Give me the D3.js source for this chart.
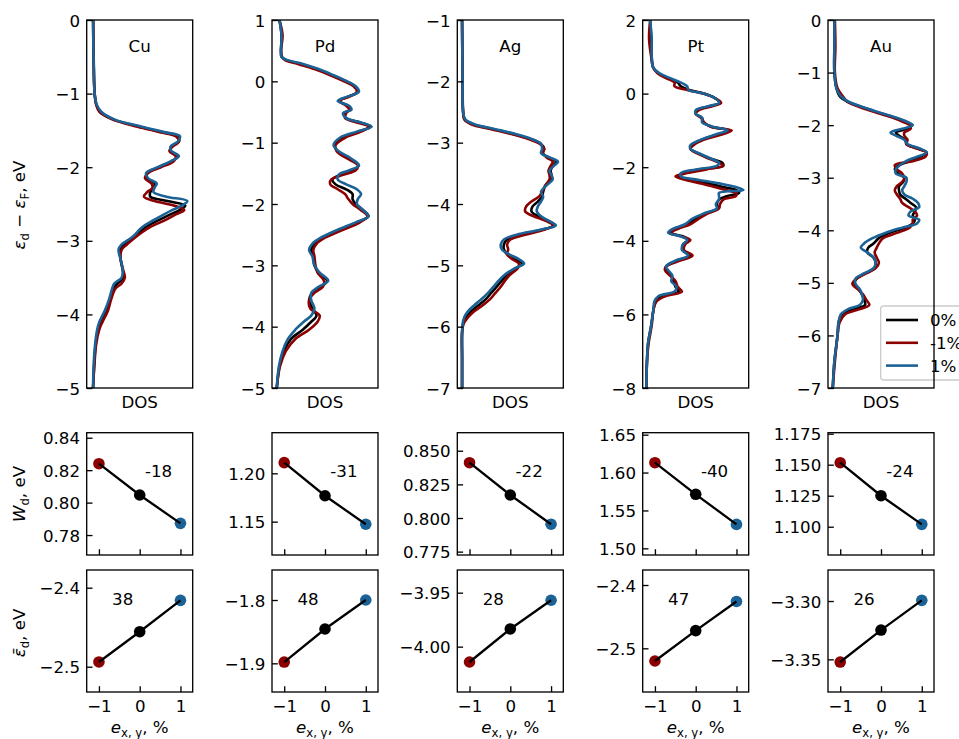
<!DOCTYPE html>
<html>
<head>
<meta charset="utf-8">
<script src="https://cdn.jsdelivr.net/npm/d3@7"></script>
<style>
  body { margin: 0; background: #fff; }
  svg { display: block; font-family: 'DejaVu Sans', sans-serif; }
</style>
</head>
<body>
<div id="chart"></div>
<script>
var metals = ['Cu', 'Pd', 'Ag', 'Pt', 'Au'];
var strains = [-1, 0, 1];
var seriesLabels = ['0%', '-1%', '1%'];

// d-band DOS, energies in eV, DOS in arbitrary units
var cuEnergy = [0, -0.5, -1.0, -1.15, -1.25, -1.35, -1.45, -1.52, -1.58, -1.65, -1.72, -1.78, -1.85, -1.92, -2.0, -2.08, -2.15, -2.22, -2.28, -2.34, -2.40, -2.46, -2.52, -2.58, -2.64, -2.72, -2.82, -2.95, -3.05, -3.12, -3.25, -3.4, -3.5, -3.58, -3.65, -3.8, -3.95, -4.1, -4.2, -4.4, -4.7, -5.0];
var cuDos0 = [0.06, 0.065, 0.075, 0.09, 0.13, 0.25, 0.50, 0.70, 0.86, 0.87, 0.80, 0.79, 0.86, 0.80, 0.68, 0.57, 0.57, 0.64, 0.63, 0.60, 0.60, 0.76, 0.93, 0.88, 0.79, 0.68, 0.55, 0.45, 0.36, 0.31, 0.32, 0.34, 0.35, 0.29, 0.25, 0.22, 0.18, 0.13, 0.11, 0.085, 0.07, 0.06];
var cuDosM1 = [0.062, 0.066, 0.075, 0.09, 0.12, 0.24, 0.48, 0.68, 0.84, 0.87, 0.81, 0.78, 0.84, 0.82, 0.70, 0.58, 0.55, 0.61, 0.62, 0.57, 0.54, 0.64, 0.82, 0.92, 0.84, 0.74, 0.59, 0.46, 0.38, 0.33, 0.32, 0.345, 0.36, 0.33, 0.27, 0.23, 0.20, 0.15, 0.12, 0.09, 0.072, 0.06];
var cuDosP1 = [0.06, 0.065, 0.075, 0.095, 0.14, 0.26, 0.52, 0.72, 0.88, 0.86, 0.79, 0.80, 0.87, 0.79, 0.67, 0.56, 0.58, 0.66, 0.64, 0.63, 0.75, 0.95, 0.90, 0.81, 0.73, 0.63, 0.52, 0.43, 0.33, 0.30, 0.32, 0.34, 0.33, 0.26, 0.24, 0.21, 0.17, 0.12, 0.10, 0.08, 0.065, 0.06];

var pdEnergy = [1.0, 0.75, 0.5, 0.4, 0.35, 0.28, 0.2, 0.1, 0.0, -0.08, -0.17, -0.25, -0.32, -0.40, -0.46, -0.52, -0.60, -0.67, -0.74, -0.82, -0.92, -1.04, -1.14, -1.25, -1.37, -1.45, -1.52, -1.60, -1.68, -1.76, -1.84, -1.92, -2.0, -2.1, -2.2, -2.3, -2.42, -2.55, -2.65, -2.75, -2.85, -3.0, -3.12, -3.25, -3.35, -3.45, -3.57, -3.7, -3.82, -3.92, -4.05, -4.2, -4.4, -4.65, -5.0];
var pdDos0 = [0.07, 0.09, 0.085, 0.09, 0.13, 0.28, 0.42, 0.57, 0.70, 0.78, 0.81, 0.72, 0.63, 0.72, 0.74, 0.68, 0.70, 0.83, 0.93, 0.82, 0.66, 0.59, 0.62, 0.72, 0.82, 0.76, 0.65, 0.57, 0.60, 0.70, 0.76, 0.76, 0.79, 0.86, 0.91, 0.80, 0.64, 0.48, 0.40, 0.37, 0.39, 0.40, 0.44, 0.52, 0.46, 0.38, 0.35, 0.38, 0.42, 0.37, 0.29, 0.18, 0.11, 0.07, 0.045];
var pdDosM1 = [0.07, 0.10, 0.085, 0.095, 0.12, 0.25, 0.40, 0.55, 0.68, 0.77, 0.80, 0.73, 0.64, 0.70, 0.73, 0.70, 0.69, 0.80, 0.91, 0.84, 0.69, 0.60, 0.61, 0.70, 0.81, 0.79, 0.68, 0.56, 0.55, 0.62, 0.69, 0.72, 0.76, 0.84, 0.90, 0.83, 0.67, 0.50, 0.42, 0.39, 0.40, 0.41, 0.43, 0.49, 0.48, 0.40, 0.35, 0.36, 0.45, 0.43, 0.35, 0.22, 0.13, 0.075, 0.045];
var pdDosP1 = [0.07, 0.09, 0.085, 0.09, 0.14, 0.30, 0.44, 0.58, 0.71, 0.79, 0.82, 0.71, 0.62, 0.73, 0.75, 0.67, 0.70, 0.84, 0.94, 0.80, 0.64, 0.58, 0.63, 0.74, 0.82, 0.73, 0.63, 0.62, 0.70, 0.80, 0.84, 0.81, 0.80, 0.86, 0.91, 0.79, 0.62, 0.46, 0.38, 0.35, 0.38, 0.40, 0.45, 0.53, 0.44, 0.37, 0.37, 0.40, 0.37, 0.30, 0.22, 0.15, 0.10, 0.065, 0.045];

var agEnergy = [-1, -2, -2.5, -2.62, -2.7, -2.78, -2.86, -2.94, -3.02, -3.1, -3.17, -3.24, -3.31, -3.38, -3.46, -3.53, -3.6, -3.7, -3.8, -3.88, -3.96, -4.04, -4.12, -4.2, -4.28, -4.35, -4.42, -4.5, -4.58, -4.66, -4.74, -4.82, -4.9, -4.97, -5.05, -5.15, -5.25, -5.35, -5.45, -5.55, -5.65, -5.75, -5.85, -5.95, -6.1, -6.5, -7];
var agDos0 = [0.045, 0.05, 0.055, 0.07, 0.15, 0.34, 0.53, 0.69, 0.79, 0.82, 0.80, 0.86, 0.93, 0.90, 0.88, 0.89, 0.88, 0.83, 0.81, 0.80, 0.76, 0.71, 0.70, 0.76, 0.86, 0.91, 0.80, 0.60, 0.47, 0.44, 0.44, 0.47, 0.55, 0.61, 0.55, 0.47, 0.42, 0.37, 0.32, 0.27, 0.20, 0.13, 0.08, 0.055, 0.045, 0.045, 0.045];
var agDosM1 = [0.045, 0.05, 0.055, 0.065, 0.13, 0.32, 0.51, 0.67, 0.78, 0.82, 0.81, 0.84, 0.90, 0.88, 0.86, 0.87, 0.87, 0.83, 0.80, 0.77, 0.70, 0.65, 0.64, 0.72, 0.84, 0.90, 0.82, 0.64, 0.50, 0.47, 0.48, 0.47, 0.52, 0.58, 0.57, 0.50, 0.45, 0.41, 0.36, 0.31, 0.24, 0.16, 0.10, 0.06, 0.045, 0.045, 0.045];
var agDosP1 = [0.045, 0.05, 0.055, 0.075, 0.16, 0.36, 0.55, 0.70, 0.79, 0.80, 0.79, 0.87, 0.95, 0.91, 0.87, 0.89, 0.90, 0.84, 0.79, 0.81, 0.79, 0.76, 0.75, 0.79, 0.87, 0.93, 0.78, 0.56, 0.44, 0.41, 0.42, 0.49, 0.58, 0.63, 0.54, 0.45, 0.39, 0.34, 0.29, 0.23, 0.16, 0.10, 0.065, 0.05, 0.045, 0.045, 0.045];

var ptEnergy = [2, 1.5, 1.0, 0.7, 0.55, 0.42, 0.3, 0.2, 0.1, 0.0, -0.12, -0.25, -0.35, -0.45, -0.55, -0.66, -0.78, -0.9, -1.0, -1.1, -1.25, -1.4, -1.5, -1.62, -1.75, -1.88, -1.96, -2.06, -2.16, -2.25, -2.34, -2.44, -2.54, -2.62, -2.7, -2.78, -2.88, -3.0, -3.12, -3.25, -3.4, -3.55, -3.68, -3.78, -3.88, -3.98, -4.1, -4.25, -4.4, -4.55, -4.7, -4.8, -4.95, -5.1, -5.25, -5.38, -5.5, -5.65, -5.9, -6.3, -6.8, -7.3, -8];
var ptDos0 = [0.07, 0.08, 0.085, 0.10, 0.15, 0.24, 0.33, 0.36, 0.44, 0.58, 0.68, 0.73, 0.62, 0.51, 0.50, 0.56, 0.57, 0.65, 0.82, 0.72, 0.56, 0.46, 0.45, 0.52, 0.62, 0.75, 0.76, 0.55, 0.40, 0.33, 0.45, 0.62, 0.76, 0.88, 0.91, 0.80, 0.72, 0.70, 0.71, 0.60, 0.50, 0.42, 0.30, 0.25, 0.38, 0.43, 0.38, 0.38, 0.45, 0.31, 0.22, 0.22, 0.27, 0.29, 0.31, 0.34, 0.18, 0.12, 0.10, 0.08, 0.05, 0.04, 0.035];
var ptDosM1 = [0.07, 0.06, 0.08, 0.10, 0.14, 0.22, 0.30, 0.30, 0.42, 0.57, 0.68, 0.74, 0.65, 0.53, 0.50, 0.55, 0.58, 0.64, 0.84, 0.76, 0.58, 0.48, 0.45, 0.51, 0.61, 0.72, 0.76, 0.60, 0.42, 0.31, 0.40, 0.55, 0.68, 0.78, 0.88, 0.88, 0.76, 0.73, 0.72, 0.62, 0.53, 0.45, 0.33, 0.27, 0.36, 0.45, 0.40, 0.39, 0.47, 0.34, 0.22, 0.21, 0.26, 0.31, 0.33, 0.37, 0.22, 0.13, 0.10, 0.085, 0.055, 0.04, 0.035];
var ptDosP1 = [0.07, 0.085, 0.085, 0.10, 0.16, 0.26, 0.36, 0.42, 0.43, 0.58, 0.68, 0.72, 0.61, 0.50, 0.50, 0.56, 0.56, 0.66, 0.80, 0.70, 0.55, 0.45, 0.45, 0.53, 0.63, 0.72, 0.70, 0.50, 0.36, 0.36, 0.52, 0.72, 0.88, 0.95, 0.72, 0.72, 0.72, 0.69, 0.70, 0.58, 0.47, 0.40, 0.28, 0.24, 0.36, 0.42, 0.38, 0.37, 0.43, 0.30, 0.22, 0.24, 0.28, 0.27, 0.32, 0.30, 0.15, 0.11, 0.10, 0.08, 0.05, 0.04, 0.035];

var auEnergy = [0, -0.5, -1.0, -1.3, -1.45, -1.55, -1.65, -1.75, -1.85, -1.93, -2.0, -2.07, -2.14, -2.2, -2.28, -2.36, -2.44, -2.52, -2.6, -2.68, -2.76, -2.84, -2.92, -3.0, -3.08, -3.16, -3.24, -3.32, -3.4, -3.48, -3.56, -3.64, -3.72, -3.8, -3.87, -3.95, -4.05, -4.15, -4.25, -4.33, -4.42, -4.52, -4.62, -4.72, -4.82, -4.92, -5.02, -5.12, -5.22, -5.32, -5.42, -5.5, -5.6, -5.75, -6.0, -6.5, -7.0];
var auDos0 = [0.06, 0.06, 0.06, 0.08, 0.11, 0.18, 0.31, 0.46, 0.62, 0.72, 0.79, 0.74, 0.64, 0.67, 0.73, 0.74, 0.84, 0.93, 0.87, 0.78, 0.67, 0.63, 0.66, 0.72, 0.71, 0.67, 0.67, 0.68, 0.73, 0.78, 0.83, 0.82, 0.80, 0.82, 0.80, 0.73, 0.58, 0.48, 0.43, 0.38, 0.37, 0.43, 0.45, 0.44, 0.35, 0.27, 0.25, 0.29, 0.32, 0.34, 0.35, 0.25, 0.13, 0.10, 0.09, 0.06, 0.045];
var auDosM1 = [0.065, 0.07, 0.065, 0.09, 0.14, 0.18, 0.29, 0.44, 0.60, 0.70, 0.77, 0.78, 0.72, 0.72, 0.75, 0.74, 0.83, 0.93, 0.92, 0.81, 0.63, 0.65, 0.70, 0.72, 0.70, 0.65, 0.63, 0.65, 0.68, 0.70, 0.76, 0.82, 0.84, 0.80, 0.80, 0.77, 0.65, 0.52, 0.48, 0.46, 0.44, 0.46, 0.48, 0.45, 0.36, 0.27, 0.23, 0.28, 0.33, 0.36, 0.39, 0.30, 0.16, 0.11, 0.09, 0.065, 0.045];
var auDosP1 = [0.06, 0.06, 0.06, 0.08, 0.12, 0.19, 0.32, 0.47, 0.63, 0.74, 0.80, 0.70, 0.59, 0.64, 0.72, 0.75, 0.86, 0.93, 0.84, 0.74, 0.68, 0.64, 0.64, 0.74, 0.74, 0.72, 0.70, 0.72, 0.80, 0.85, 0.86, 0.78, 0.76, 0.86, 0.84, 0.70, 0.54, 0.42, 0.34, 0.31, 0.37, 0.43, 0.45, 0.43, 0.34, 0.26, 0.26, 0.30, 0.32, 0.33, 0.30, 0.19, 0.12, 0.10, 0.09, 0.06, 0.045];

var energyLimits = [[0, -5], [1, -5], [-1, -7], [2, -8], [0, -7]];
var energyTicks = [[0, -1, -2, -3, -4, -5], [1, 0, -1, -2, -3, -4, -5], [-1, -2, -3, -4, -5, -6, -7], [2, 0, -2, -4, -6, -8], [0, -1, -2, -3, -4, -5, -6, -7]];

// d-band width W_d (eV) at -1, 0, 1 % strain
var wdValues = [[0.8240, 0.8047, 0.7872], [1.2110, 1.1768, 1.1473], [0.8411, 0.8171, 0.7954], [1.6130, 1.5713, 1.5316], [1.1516, 1.1250, 1.1019]];
var wdLimits = [[0.7677, 0.8431], [1.1155, 1.2420], [0.7725, 0.8634], [1.4912, 1.6526], [1.0772, 1.1758]];
var wdTicks = [[0.78, 0.80, 0.82, 0.84], [1.15, 1.20], [0.775, 0.800, 0.825, 0.850], [1.50, 1.55, 1.60, 1.65], [1.100, 1.125, 1.150, 1.175]];
var wdDecimals = [2, 2, 3, 2, 3];
var wdSlopes = ['-18', '-31', '-22', '-40', '-24'];

// d-band centre (eV) at -1, 0, 1 % strain
var edValues = [[-2.494, -2.4557, -2.416], [-1.898, -1.8458, -1.800], [-4.0142, -3.9836, -3.957], [-2.520, -2.472, -2.426], [-3.3523, -3.3249, -3.2994]];
var edLimits = [[-2.532, -2.3776], [-1.9453, -1.7526], [-4.042, -3.929], [-2.569, -2.3763], [-3.378, -3.2734]];
var edTicks = [[-2.5, -2.4], [-1.9, -1.8], [-4.00, -3.95], [-2.5, -2.4], [-3.35, -3.30]];
var edDecimals = [1, 1, 2, 1, 2];
var edSlopes = ['38', '48', '28', '47', '26'];

var dosEnergy = [cuEnergy, pdEnergy, agEnergy, ptEnergy, auEnergy];
var dosSeries = [
  [cuDos0, cuDosM1, cuDosP1],
  [pdDos0, pdDosM1, pdDosP1],
  [agDos0, agDosM1, agDosP1],
  [ptDos0, ptDosM1, ptDosP1],
  [auDos0, auDosM1, auDosP1]
];

var chart_width = 959;
var chart_height = 739;
var font_size = 16.67;
var panel_width = 106;
var panel_left = [86.7, 272, 457.3, 642.7, 828];
var dos_top = 20, dos_bottom = 388;
var wd_top = 432.7, wd_bottom = 555;
var ed_top = 570, ed_bottom = 692;
var colors = ['#000000', '#8b0000', '#1b6296'];
var strain_colors = ['#8b0000', '#000000', '#1b6296'];

var svg = d3.select('#chart')
  .append('svg')
  .attr('width', chart_width)
  .attr('height', chart_height);

function styleAxis(g) {
  g.attr('font-size', font_size).attr('font-family', 'DejaVu Sans');
  g.select('.domain').remove();
  g.selectAll('.tick line').attr('stroke', '#000').attr('stroke-width', 1.33);
  g.selectAll('.tick text').attr('fill', '#000');
}

function leftAxis(scale, ticks, fmt) {
  var g = svg.append('g')
    .attr('transform', 'translate(' + scale.left + ',0)')
    .call(d3.axisLeft(scale.s).tickValues(ticks).tickFormat(fmt).tickSize(-5.8).tickPadding(6.7));
  styleAxis(g);
  g.selectAll('.tick text').attr('dy', '0.36em');
  return g;
}

function frame(left, top, bottom) {
  svg.append('rect')
    .attr('x', left).attr('y', top)
    .attr('width', panel_width).attr('height', bottom - top)
    .attr('fill', 'none').attr('stroke', '#000').attr('stroke-width', 1.33);
}

// text with math-like subscripts; parts: [text, italic, subscript]
function mathText(parent, parts) {
  var t = parent.append('text')
    .attr('font-size', font_size)
    .attr('text-anchor', 'middle')
    .attr('fill', '#000');
  var shifted = false;
  parts.forEach(function(p) {
    var span = t.append('tspan').text(p[0]);
    if (p[1]) span.attr('font-style', 'italic');
    if (p[2]) {
      span.attr('font-size', font_size * 0.7).attr('dy', 3.5);
      shifted = true;
    } else if (shifted) {
      span.attr('dy', -3.5);
      shifted = false;
    }
  });
  return t;
}

// create DOS panels
metals.forEach(function(metal, i) {
  var left = panel_left[i];
  var x = d3.scaleLinear().domain([0, 1]).range([left, left + panel_width]);
  var y = d3.scaleLinear().domain(energyLimits[i]).range([dos_top, dos_bottom]);

  svg.append('clipPath').attr('id', 'clip' + i)
    .append('rect')
    .attr('x', left).attr('y', dos_top)
    .attr('width', panel_width).attr('height', dos_bottom - dos_top);

  var line = d3.line()
    .x(function(d) { return x(d[1]); })
    .y(function(d) { return y(d[0]); })
    .curve(d3.curveCatmullRom.alpha(0.5));

  var lines = svg.append('g').attr('clip-path', 'url(#clip' + i + ')');
  dosSeries[i].forEach(function(s, k) {
    var pts = dosEnergy[i].map(function(e, j) { return [e, s[j]]; });
    lines.append('path')
      .datum(pts)
      .attr('d', line)
      .attr('fill', 'none')
      .attr('stroke', colors[k])
      .attr('stroke-width', 2.6)
      .attr('stroke-linejoin', 'round');
  });

  leftAxis({ s: y, left: left }, energyTicks[i], d3.format('d'));

  svg.append('text')
    .attr('x', left + panel_width / 2).attr('y', 51.7)
    .attr('text-anchor', 'middle')
    .attr('font-size', font_size)
    .text(metal);

  svg.append('text')
    .attr('x', left + panel_width / 2).attr('y', 407.5)
    .attr('text-anchor', 'middle')
    .attr('font-size', font_size)
    .text('DOS');

  if (i === metals.length - 1) {
    var legend = svg.append('g');
    legend.append('rect')
      .attr('x', 880.7).attr('y', 306)
      .attr('width', 95).attr('height', 74)
      .attr('rx', 3)
      .attr('fill', '#fff').attr('fill-opacity', 0.8)
      .attr('stroke', '#cccccc').attr('stroke-width', 1.33);
    seriesLabels.forEach(function(label, k) {
      var ly = 320 + k * 22.8;
      legend.append('line')
        .attr('x1', 886).attr('x2', 918)
        .attr('y1', ly).attr('y2', ly)
        .attr('stroke', colors[k]).attr('stroke-width', 2.6);
      legend.append('text')
        .attr('x', 930).attr('y', ly + 6)
        .attr('font-size', font_size)
        .text(label);
    });
  }

  frame(left, dos_top, dos_bottom);
});

// create strain panels
function strainPanel(i, top, bottom, values, limits, ticks, decimals, slope, slopeX, slopeY, xLabels) {
  var left = panel_left[i];
  var x = d3.scaleLinear().domain([-1.3, 1.3]).range([left, left + panel_width]);
  var y = d3.scaleLinear().domain(limits).range([bottom, top]);

  var pts = strains.map(function(s, k) { return [s, values[k]]; });

  svg.selectAll(null)
    .data(pts)
    .enter()
    .append('circle')
    .attr('cx', function(d) { return x(d[0]); })
    .attr('cy', function(d) { return y(d[1]); })
    .attr('r', 5.8)
    .attr('fill', function(d, k) { return strain_colors[k]; });

  svg.append('path')
    .datum(pts)
    .attr('d', d3.line().x(function(d) { return x(d[0]); }).y(function(d) { return y(d[1]); }))
    .attr('fill', 'none')
    .attr('stroke', '#000')
    .attr('stroke-width', 2.3);

  leftAxis({ s: y, left: left }, ticks, d3.format('.' + decimals + 'f'));

  var gx = svg.append('g')
    .attr('transform', 'translate(0,' + bottom + ')')
    .call(d3.axisBottom(x).tickValues(strains)
      .tickFormat(xLabels ? d3.format('d') : '')
      .tickSize(-5.8).tickPadding(8));
  styleAxis(gx);

  svg.append('text')
    .attr('x', left + slopeX).attr('y', slopeY)
    .attr('font-size', font_size)
    .text(slope);

  frame(left, top, bottom);
}

metals.forEach(function(metal, i) {
  strainPanel(i, wd_top, wd_bottom, wdValues[i], wdLimits[i], wdTicks[i], wdDecimals[i], wdSlopes[i], 58.3, 477.3, false);
  strainPanel(i, ed_top, ed_bottom, edValues[i], edLimits[i], edTicks[i], edDecimals[i], edSlopes[i], 25.4, 605, true);

  var xl = mathText(svg, [['e', true, false], ['x, y', false, true], [', %', false, false]]);
  xl.attr('x', panel_left[i] + panel_width / 2).attr('y', 733);
});

// y labels
var yl1 = mathText(svg, [['\u03b5', true, false], ['d', false, true], [' \u2212 ', false, false], ['\u03b5', true, false], ['F', false, true], [', eV', false, false]]);
yl1.attr('transform', 'translate(25,205) rotate(-90)');

var yl2 = mathText(svg, [['W', true, false], ['d', false, true], [', eV', false, false]]);
yl2.attr('transform', 'translate(25,494) rotate(-90)');

var yl3 = mathText(svg, [['\u03b5\u0304', true, false], ['d', false, true], [', eV', false, false]]);
yl3.attr('transform', 'translate(25,633) rotate(-90)');
</script>
</body>
</html>
